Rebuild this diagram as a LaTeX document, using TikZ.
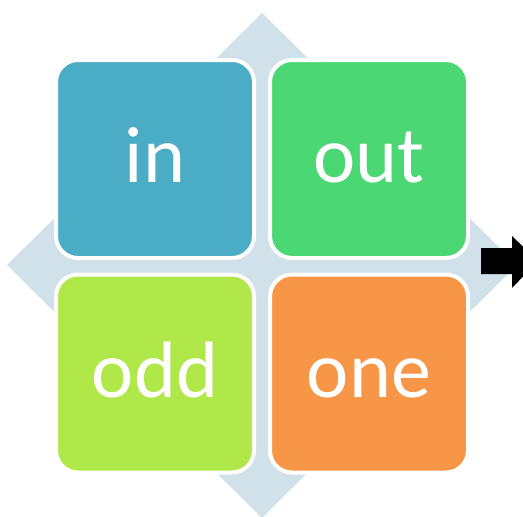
\documentclass[tikz,border=0pt]{standalone}
\usepackage{fontspec}
\setmainfont{Carlito}
\definecolor{diamondcol}{RGB}{208,225,233}
\definecolor{cin}{RGB}{75,172,198}
\definecolor{cout}{RGB}{74,215,116}
\definecolor{codd}{RGB}{176,232,74}
\definecolor{cone}{RGB}{247,150,70}
\tikzset{
  tile/.style={draw=white, line width=4pt, rounded corners=22pt, minimum size=198pt, inner sep=0pt},
  word/.style={text=white, font=\fontsize{80}{80}\selectfont, anchor=base, inner sep=0pt}
}
\begin{document}
\begin{tikzpicture}[x=1pt,y=-1pt]
\useasboundingbox (0,0) rectangle (523,517);
\clip (0,0) rectangle (523,517);
\fill[diamondcol] (262,13) -- (517,265) -- (262,518) -- (7,265) -- cycle;
\node[tile, fill=cin]  (in)  at (155,159) {};
\node[tile, fill=cout] (out) at (369,159) {};
\node[tile, fill=codd] (odd) at (155,373.5) {};
\node[tile, fill=cone] (one) at (369,373.5) {};
\node[word] (tin)  at (155,182) {in};
\node[word] (tout) at (369,182) {out};
\node[word] (todd) at (155,397) {odd};
\node[word] (tone) at (369,397) {one};
\fill[black] (481,248) -- (512,248) -- (512,236) -- (538,261) -- (512,288) -- (512,274) -- (481,274) -- cycle;
\end{tikzpicture}
\end{document}
